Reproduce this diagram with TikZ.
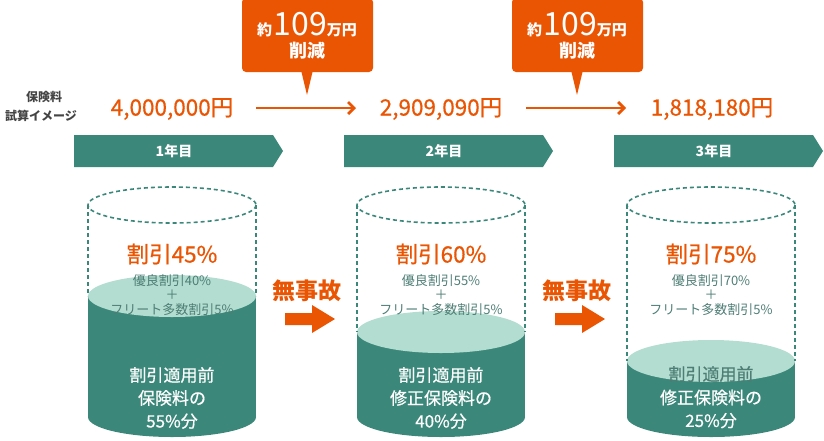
\documentclass[tikz,border=0pt]{standalone}
\usepackage{fontspec}
\usetikzlibrary{arrows.meta}
\setmainfont{Noto Sans CJK JP}
\newfontfamily\medfont[FakeBold=0.6]{Noto Sans CJK JP}
\definecolor{og}{HTML}{EA5504}
\definecolor{tl}{HTML}{3B887B}
\definecolor{lt}{HTML}{B3DDD0}
\definecolor{tx}{HTML}{4D7D74}
\definecolor{gy}{HTML}{444444}
\newcommand{\fsz}[1]{\fontsize{#1}{#1}\selectfont}
\tikzset{
  amount/.style={text=og, font=\medfont\fsz{22.5}},
  banner/.style={fill=tl},
  bannertext/.style={text=white, font=\fsz{14}\bfseries},
  cylfill/.style={fill=tl},
  cyltop/.style={fill=lt},
  dashline/.style={draw=tl, dashed, dash pattern=on 4pt off 3pt, line width=1.6pt},
  pct/.style={text=og, font=\medfont\fsz{22.5}},
  small/.style={text=tx, font=\fsz{13}, align=center, inner sep=0pt},
  white3/.style={text=white, font=\medfont\fsz{17}, align=center, inner sep=0pt},
  arr/.style={draw=og, line width=2.8pt, -{Straight Barb[length=6pt,width=12pt]}},
  callout/.style={fill=og},
  noacc/.style={text=og, font=\fsz{23}\bfseries},
  blockarrow/.style={fill=og}
}
\begin{document}
\begin{tikzpicture}[x=1pt,y=-1pt]
\useasboundingbox (0,0) rectangle (824,440);

% left label
\node[text=gy, font=\fsz{12}\bfseries, inner sep=0pt] (lab1) at (44,97) {保険料};
\node[text=gy, font=\fsz{12}\bfseries, inner sep=0pt] (lab2) at (41,116) {試算イメージ};

% amounts
\node[amount] (a1) at (172,109) {4,000,000円};
\node[amount] (a2) at (441,109) {2,909,090円};
\node[amount] (a3) at (712,109) {1,818,180円};
\coordinate (s1) at (256,108); \coordinate (e1) at (356,108);
\coordinate (s2) at (526,108); \coordinate (e2) at (626,108);
\draw[arr] (s1) -- (e1);
\draw[arr] (s2) -- (e2);

% callouts
\foreach \cx/\nm in {307/c1, 577/c2}{
  \fill[callout, rounded corners=4pt] (\cx-65,-2) rectangle (\cx+66,72);
  \fill[callout] (\cx-6,70) -- (\cx,95) -- (\cx+6,70) -- cycle;
  \node[text=white, inner sep=0pt] (\nm t) at (\cx,25) {{\fsz{15}\bfseries 約}\,{\fsz{32}109}{\fsz{15}\bfseries 万円}};
  \node[text=white, font=\fsz{18}\bfseries, inner sep=0pt] (\nm b) at (\cx,51) {削減};
}

% banners
\foreach \bx/\lab/\nm in {74/1年目/b1, 344/2年目/b2, 614/3年目/b3}{
  \fill[banner] (\bx,135) -- (\bx+199,135) -- (\bx+209,151) -- (\bx+199,167) -- (\bx,167) -- cycle;
  \node[bannertext] (\nm) at (\bx+100,151) {\lab};
}

% cylinders
\foreach \cx/\lv/\nm in {172/296/k1, 441/332/k2, 711/361/k3}{
  \fill[cylfill] (\cx,417) ellipse [x radius=84, y radius=20];
  \fill[cylfill] (\cx-84,\lv) rectangle (\cx+84,417);
  \fill[cyltop] (\cx,\lv) ellipse [x radius=84, y radius=21];
  \draw[dashline] (\cx,205) ellipse [x radius=84, y radius=18];
  \draw[dashline] (\cx-84,205) -- (\cx-84,\lv);
  \draw[dashline] (\cx+84,205) -- (\cx+84,\lv);
}

% cylinder texts
\node[pct] (p1) at (172,254) {割引45\%};
\node[pct] (p2) at (441,254) {割引60\%};
\node[pct] (p3) at (711,254) {割引75\%};
\node[small] (d1) at (172,295) {優良割引40\%\\[1.5pt]＋\\[1.5pt]フリート多数割引5\%};
\node[small] (d2) at (441,295) {優良割引55\%\\[1.5pt]＋\\[1.5pt]フリート多数割引5\%};
\node[small] (d3) at (711,295) {優良割引70\%\\[1.5pt]＋\\[1.5pt]フリート多数割引5\%};
\node[white3] (w1) at (172,398) {割引適用前\\[6pt]保険料の\\[6pt]55\%分};
\node[white3] (w2) at (441,398) {割引適用前\\[6pt]修正保険料の\\[6pt]40\%分};
\node[text=tx, font=\medfont\fsz{17}, inner sep=0pt] (w3a) at (711,374) {割引適用前};
\node[white3] (w3) at (711,409) {修正保険料の\\[6pt]25\%分};

% no-accident arrows
\foreach \ax/\nm in {285/n1, 555/n2}{
  \node[noacc] (\nm) at (\ax+22,291) {無事故};
  \fill[blockarrow] (\ax,313) -- (\ax+27,313) -- (\ax+27,305) -- (\ax+50,319) -- (\ax+27,333) -- (\ax+27,325) -- (\ax,325) -- cycle;
}
\end{tikzpicture}
\end{document}
